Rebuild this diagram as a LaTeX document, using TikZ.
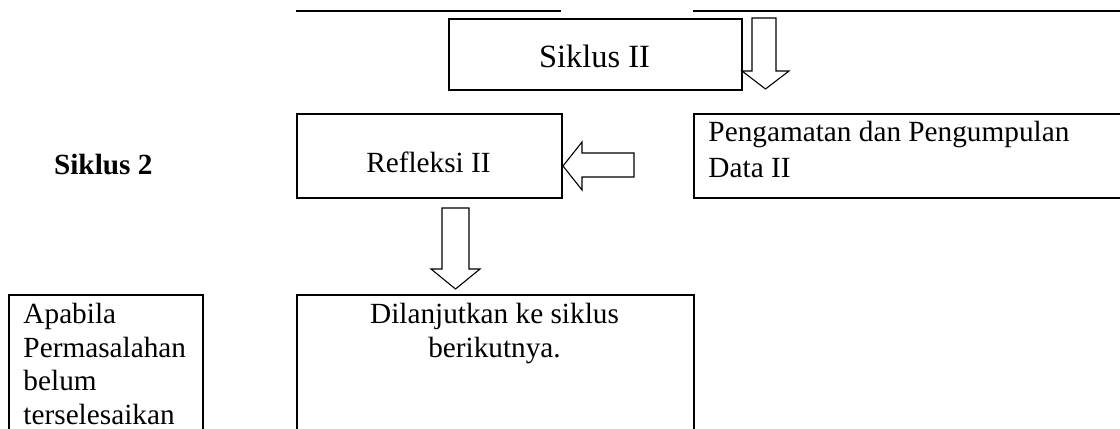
\documentclass[tikz,border=0pt]{standalone}
\usepackage{fontspec}
\setmainfont{Liberation Serif}
\usetikzlibrary{positioning}

\tikzset{
  kotak/.style={draw, line width=0.7pt, inner sep=0pt, anchor=north west},
  isi/.style={inner sep=0pt, font=\fontsize{12}{13.8}\selectfont},
  panah/.style={draw, line width=0.45pt, line join=miter},
  garis/.style={line width=0.9pt}
}

\begin{document}
\begin{tikzpicture}[x=0.41pt, y=-0.41pt]
  \clip (0,0) rectangle (1120,429);

  % garis atas
  \coordinate (ga) at (296,11);
  \coordinate (gb) at (561,11);
  \coordinate (gc) at (693,11);
  \coordinate (gd) at (1120,11);
  \draw[garis] (ga) -- (gb);
  \draw[garis] (gc) -- (gd);

  % kotak
  \node[kotak, minimum width=293*0.41pt, minimum height=71*0.41pt] (siklus) at (448,18) {};
  \node[kotak, minimum width=265*0.41pt, minimum height=84*0.41pt] (refleksi) at (296,113) {};
  \node[kotak, minimum width=460*0.41pt, minimum height=84*0.41pt] (pengamatan) at (693,113) {};
  \node[kotak, minimum width=397*0.41pt, minimum height=200*0.41pt] (lanjut) at (296,294) {};
  \node[kotak, minimum width=194*0.41pt, minimum height=200*0.41pt] (apabila) at (8,294) {};

  % teks
  \node[isi, font=\fontsize{13.3}{15.3}\selectfont, anchor=base] (tsiklus) at (594.5,68) {Siklus II};
  \node[isi, anchor=base] (trefleksi) at (428.5,173) {Refleksi II};
  \node[isi, font=\fontsize{12}{13.8}\selectfont\bfseries, anchor=base east] (tsiklus2) at (153,175) {Siklus 2};
  \node[isi, font=\fontsize{12}{14.6}\selectfont, align=left, anchor=north west] (tpengamatan) at (708,116)
    {\strut Pengamatan dan Pengumpulan\\Data II};
  \node[isi, align=center, anchor=north] (tlanjut) at (494.5,299.4)
    {\strut Dilanjutkan ke siklus\\berikutnya.};
  \node[isi, align=left, anchor=north west] (tapabila) at (23,299.4)
    {\strut Apabila\\Permasalahan\\belum\\terselesaikan};

  % panah blok
  \draw[panah] (752,18) -- (752,71) -- (742,71) -- (765.5,89) -- (789,71) -- (776,71) -- (776,18) -- cycle;
  \draw[panah] (563,166) -- (582,142) -- (582,153) -- (634,153) -- (634,177) -- (582,177) -- (582,190) -- cycle;
  \draw[panah] (442,208) -- (442,269) -- (431,269) -- (455.5,289) -- (480,269) -- (469,269) -- (469,208) -- cycle;
\end{tikzpicture}
\end{document}
